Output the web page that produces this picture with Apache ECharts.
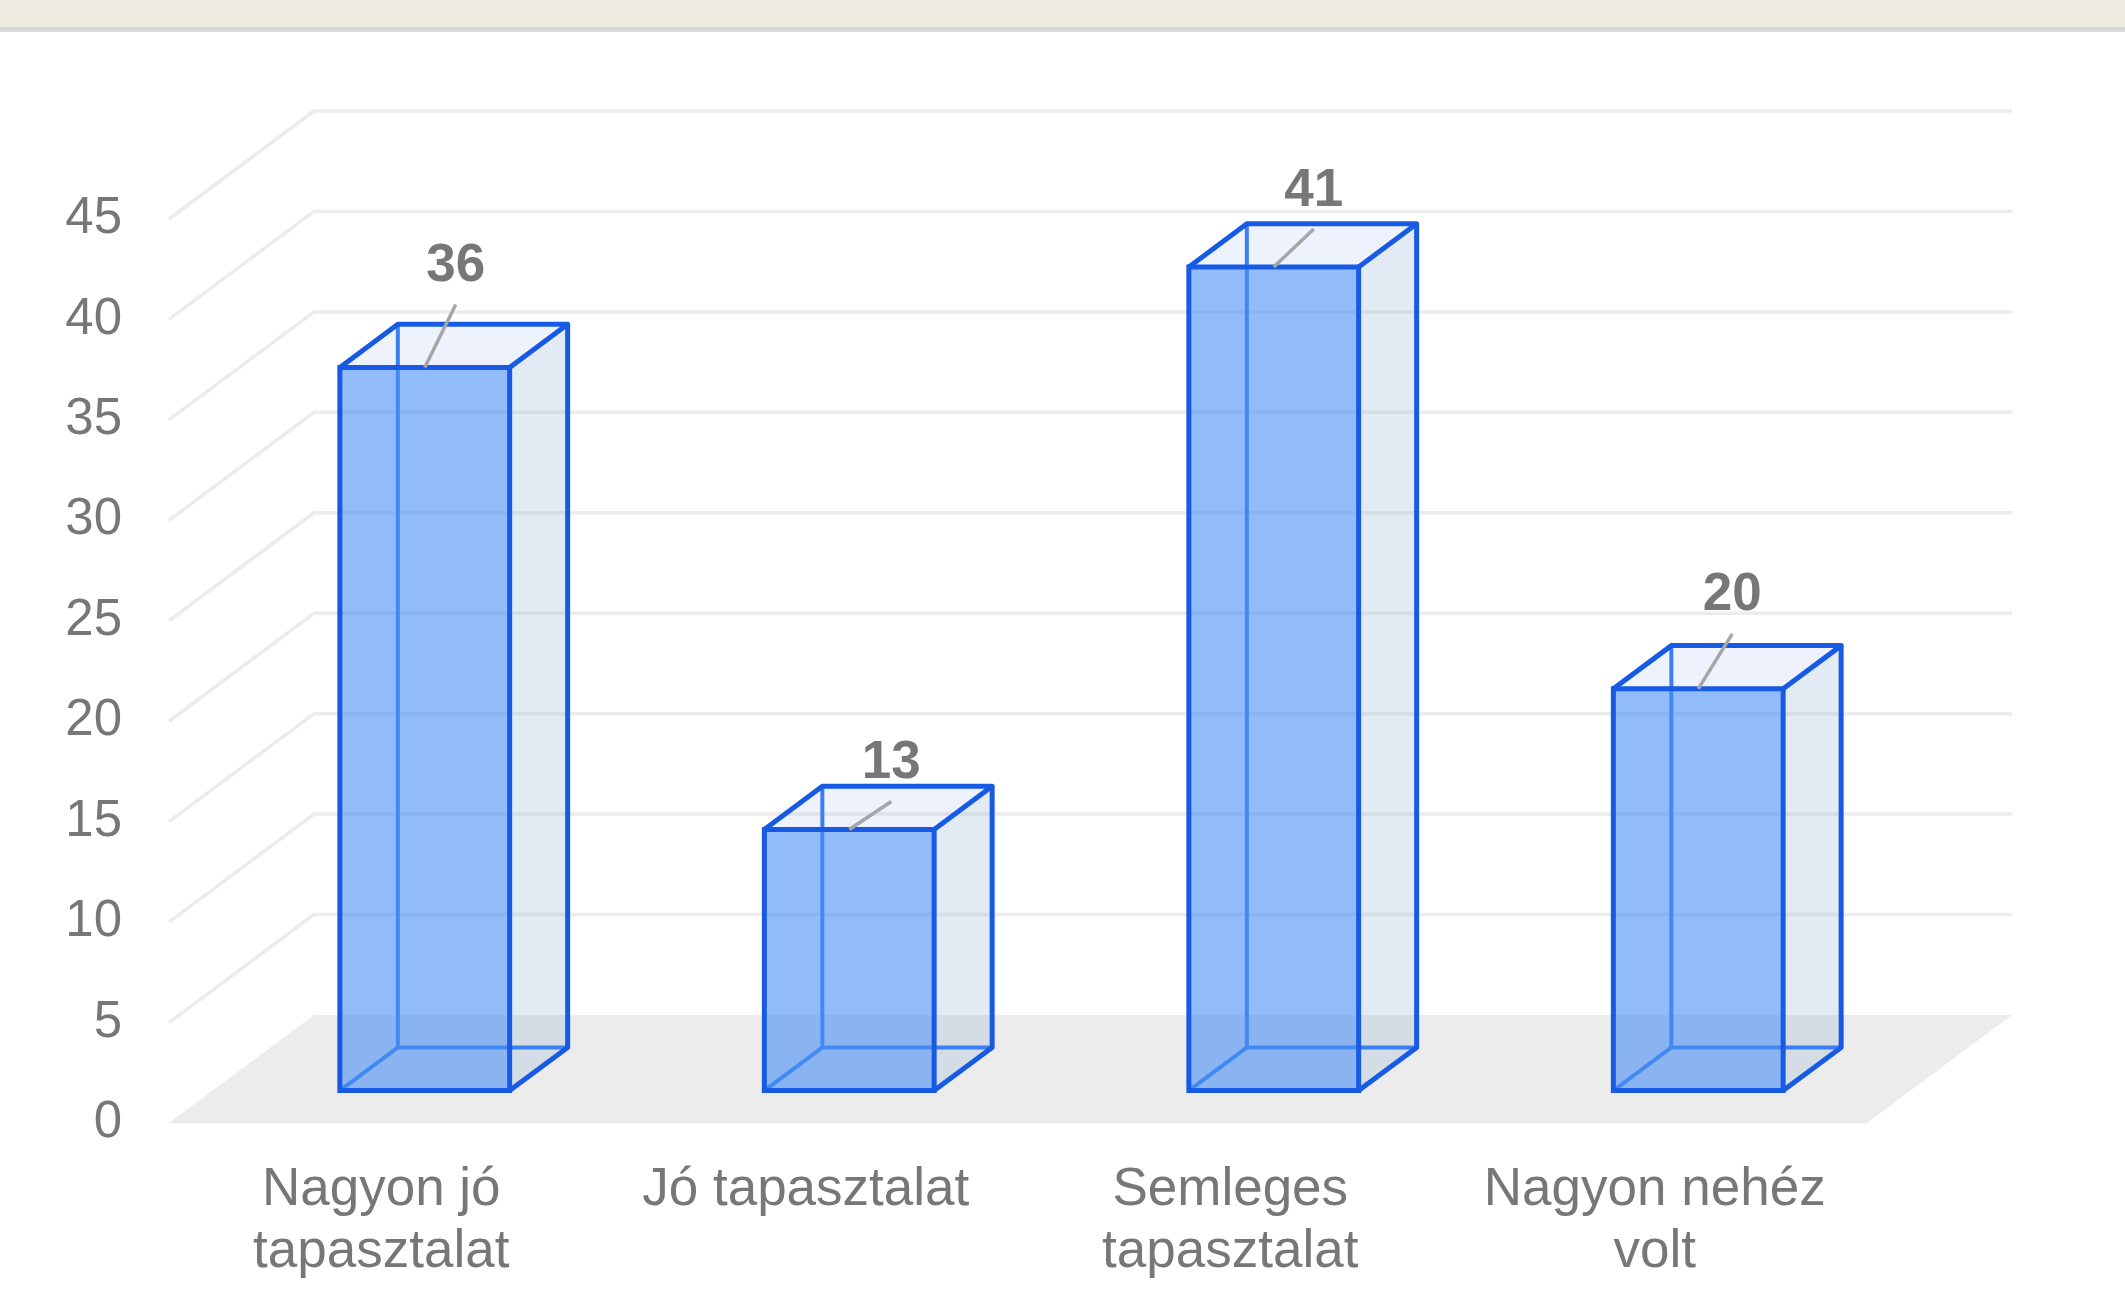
<!DOCTYPE html>
<html>
<head>
<meta charset="utf-8">
<title>Tapasztalat</title>
<script src="https://cdn.jsdelivr.net/npm/echarts@6/dist/echarts.min.js"></script>
<style>
  html, body { margin: 0; padding: 0; background: #fff; }
  #chart { width: 2125px; height: 1308px; }
</style>
</head>
<body>
<div id="chart"></div>
<script>
const categories = ["Nagyon jó\ntapasztalat", "Jó tapasztalat", "Semleges\ntapasztalat", "Nagyon nehéz\nvolt"];
const answers = [36, 13, 41, 20];
const yTicks = [0, 5, 10, 15, 20, 25, 30, 35, 40, 45];

// fake 3d: offset of the back wall from the front plane, in px
const DEPTH_X = 145;
const DEPTH_Y = 108;
// bars stand between these depth fractions
const BAR_FRONT = 0.3;
const BAR_BACK = 0.7;
// leader line start, relative to the bar's top front center
const labelShift = [[31, -63], [42, -28], [40, -38], [34, -55]];

const FONT = "Liberation Sans";
const EDGE = "#175ae4";

const chart = echarts.init(document.getElementById("chart"));

function renderWalls(params, api) {
  const cs = params.coordSys;
  const v = api.value(1);
  const y = api.coord([0, v])[1];
  const x0 = cs.x;
  const x1 = cs.x + cs.width;
  if (v === 0) {
    // the floor
    return {
      type: "polygon",
      shape: { points: [[x0, y], [x1, y], [x1 + DEPTH_X, y - DEPTH_Y], [x0 + DEPTH_X, y - DEPTH_Y]] },
      style: { fill: "#ececec" }
    };
  }
  return {
    type: "polyline",
    shape: { points: [[x0, y], [x0 + DEPTH_X, y - DEPTH_Y], [x1 + DEPTH_X, y - DEPTH_Y]] },
    style: { stroke: "#ececec", lineWidth: 3.5, fill: null }
  };
}

function renderBar(params, api) {
  const i = api.value(0);
  const v = api.value(1);
  const base = api.coord([i, 0]);
  const top = api.coord([i, v]);
  const bw = api.size([1, 0])[0] * 0.4;
  const fx = BAR_FRONT * DEPTH_X;
  const fy = BAR_FRONT * DEPTH_Y;
  const dx = (BAR_BACK - BAR_FRONT) * DEPTH_X;
  const dy = (BAR_BACK - BAR_FRONT) * DEPTH_Y;
  const l = base[0] - bw / 2 + fx;
  const r = base[0] + bw / 2 + fx;
  const b = base[1] - fy;
  const t = top[1] - fy;
  const cx = (l + r) / 2;
  const sh = labelShift[params.dataIndex];

  return {
    type: "group",
    children: [
      {
        type: "polygon",
        shape: { points: [[r, b], [r, t], [r + dx, t - dy], [r + dx, b - dy]] },
        style: { fill: "rgba(140,170,210,0.25)" }
      },
      {
        type: "polygon",
        shape: { points: [[l, t], [r, t], [r + dx, t - dy], [l + dx, t - dy]] },
        style: { fill: "rgba(150,180,235,0.17)" }
      },
      // edges seen through the box
      {
        type: "polyline",
        shape: { points: [[l, b], [l + dx, b - dy], [r + dx, b - dy]] },
        style: { stroke: "#3a80f2", lineWidth: 4, fill: null }
      },
      {
        type: "line",
        shape: { x1: l + dx, y1: b - dy, x2: l + dx, y2: t - dy },
        style: { stroke: "#3a80f2", lineWidth: 4 }
      },
      {
        type: "rect",
        shape: { x: l, y: t, width: r - l, height: b - t },
        style: { fill: "rgba(74,144,245,0.6)", stroke: EDGE, lineWidth: 5 }
      },
      {
        type: "polyline",
        shape: { points: [[l, t], [l + dx, t - dy], [r + dx, t - dy], [r, t]] },
        style: { stroke: EDGE, lineWidth: 5, fill: null, lineJoin: "round" }
      },
      {
        type: "polyline",
        shape: { points: [[r + dx, t - dy], [r + dx, b - dy], [r, b]] },
        style: { stroke: EDGE, lineWidth: 5, fill: null, lineJoin: "round" }
      },
      {
        type: "line",
        shape: { x1: cx, y1: t, x2: cx + sh[0], y2: t + sh[1] },
        style: { stroke: "#a6a6a6", lineWidth: 3.5 }
      },
      {
        type: "text",
        x: cx + sh[0],
        y: t + sh[1] - 38,
        style: {
          text: String(v),
          fill: "#777777",
          font: "bold 53px '" + FONT + "'",
          align: "center",
          verticalAlign: "middle"
        }
      }
    ]
  };
}

const option = {
  animation: false,
  backgroundColor: "#ffffff",
  graphic: [
    { type: "rect", left: 0, top: 0, shape: { width: 2125, height: 27 }, style: { fill: "#eeebe0" } },
    { type: "rect", left: 0, top: 27, shape: { width: 2125, height: 5 }, style: { fill: "#d9d9d9" } }
  ],
  grid: { left: 169, right: 258, top: 219, bottom: 185 },
  xAxis: {
    type: "category",
    data: categories,
    axisLine: { show: false },
    axisTick: { show: false },
    axisLabel: {
      interval: 0,
      margin: 36,
      color: "#777777",
      fontFamily: FONT,
      fontSize: 53,
      lineHeight: 62
    }
  },
  yAxis: {
    type: "value",
    min: yTicks[0],
    max: yTicks[yTicks.length - 1],
    interval: yTicks[1] - yTicks[0],
    axisLine: { show: false },
    axisTick: { show: false },
    splitLine: { show: false },
    axisLabel: {
      margin: 47,
      color: "#777777",
      fontFamily: FONT,
      fontSize: 51
    }
  },
  series: [
    {
      type: "custom",
      z: 1,
      silent: true,
      clip: false,
      renderItem: renderWalls,
      data: yTicks.map(v => [0, v])
    },
    {
      type: "custom",
      z: 2,
      clip: false,
      renderItem: renderBar,
      data: answers.map((v, i) => [i, v])
    }
  ]
};

chart.setOption(option);
</script>
</body>
</html>
